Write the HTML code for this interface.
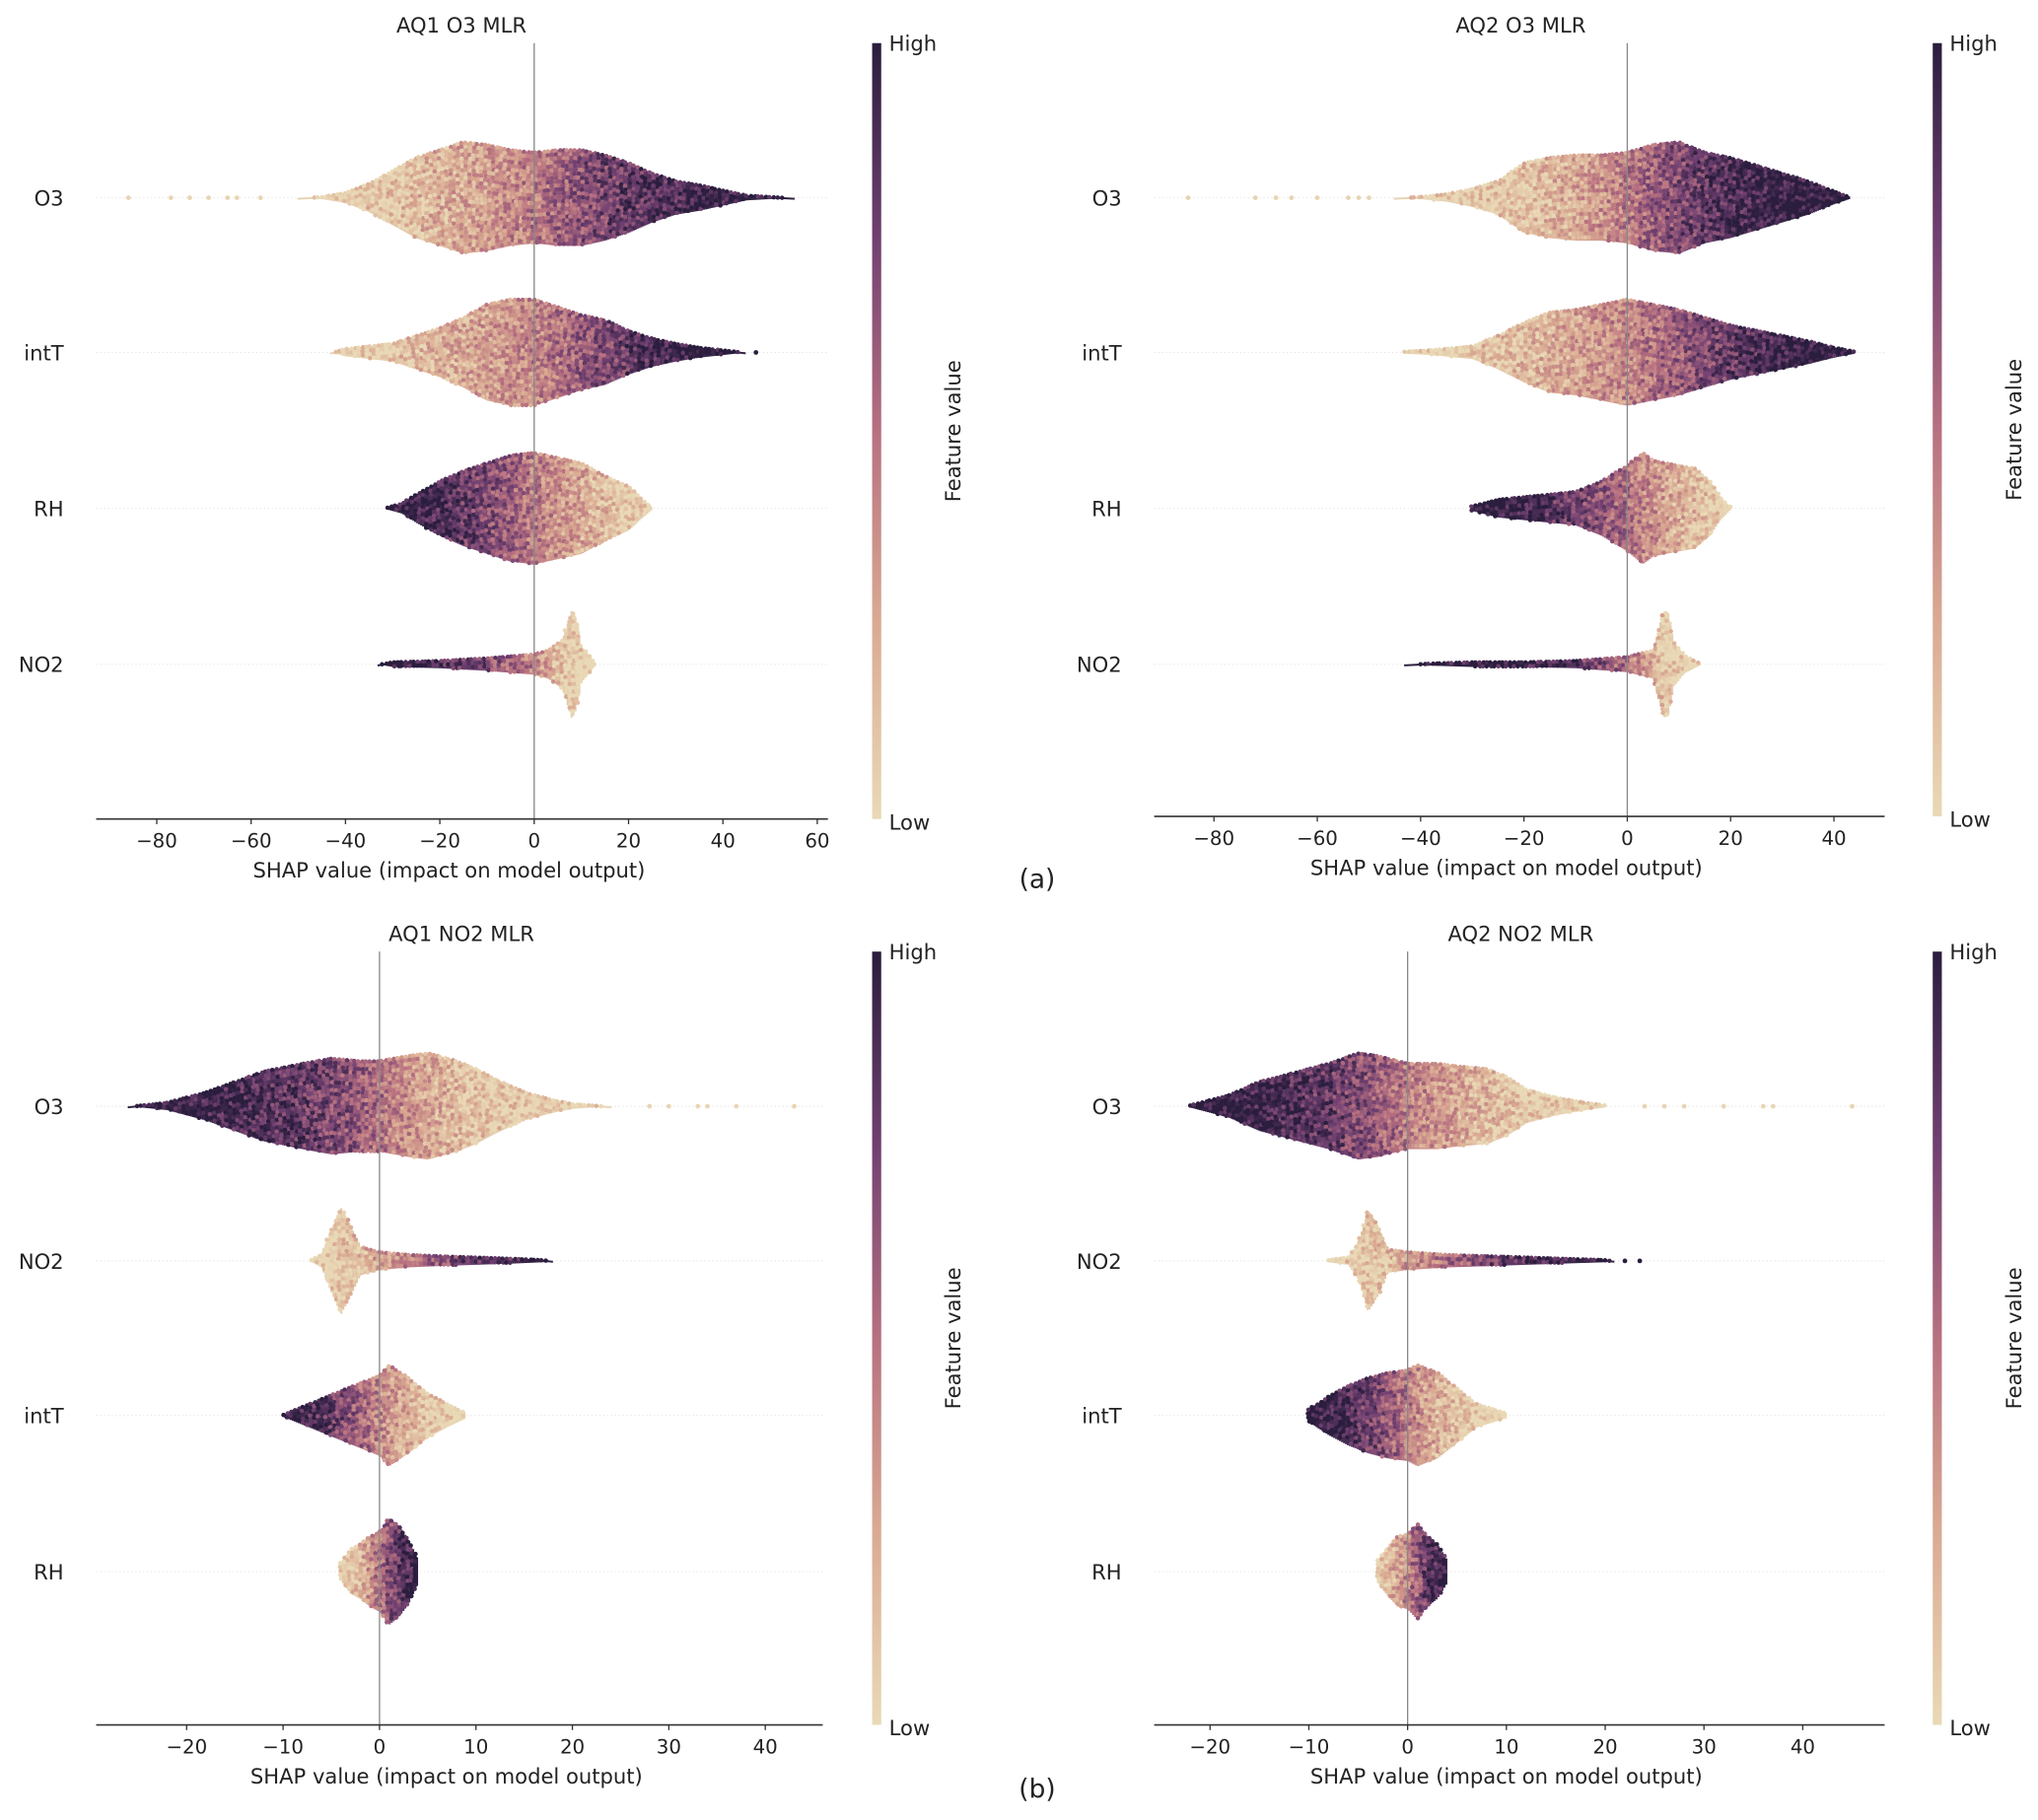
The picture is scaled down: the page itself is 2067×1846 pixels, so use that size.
<!DOCTYPE html>
<html><head><meta charset="utf-8"><style>html,body{margin:0;padding:0;background:#fff}svg{display:block}text{font-family:"DejaVu Sans","Liberation Sans",sans-serif;fill:#222}</style></head>
<body>
<svg id="fig" width="2067" height="1846" viewBox="0 0 1568 1400" xmlns="http://www.w3.org/2000/svg"></svg>
<script>
// ---- data (SHAP value bins: x, swarm half-height density, mean feature colour) ----
const panelTitles = ["AQ1 O3 MLR","AQ2 O3 MLR","AQ1 NO2 MLR","AQ2 NO2 MLR"];
const panelFeatures = [["O3","intT","RH","NO2"],["O3","intT","RH","NO2"],["O3","NO2","intT","RH"],["O3","NO2","intT","RH"]];
const panelTicks = [[-80,-60,-40,-20,0,20,40,60],[-80,-60,-40,-20,0,20,40],[-20,-10,0,10,20,30,40],[-20,-10,0,10,20,30,40]];
// panel 1
const p1O3X=[-50,-45,-40,-35,-30,-25,-20,-15,-10,-5,0,5,10,15,20,25,30,35,40,45,50,55];
const p1O3H=[1,2,5,12,22,32,38,44,42,38,36,38,38,34,28,20,14,11,7,3,2,1];
const p1O3CX=[-50,-40,-30,-20,-10,0,10,20,30,40,50];
const p1O3C=[0.02,0.05,0.1,0.2,0.3,0.45,0.65,0.8,0.9,0.95,1];
const p1O3Out=[-86,-77,-73,-69,-65,-63,-58];
const p1IntX=[-43,-40,-35,-30,-25,-20,-15,-10,-5,0,5,10,15,20,25,30,35,40,45];
const p1IntH=[1,4,6,8,14,20,28,38,42,42,36,30,26,18,12,8,5,3,1];
const p1IntCX=[-40,-30,-20,-10,0,10,20,30,40];
const p1IntC=[0.03,0.08,0.2,0.28,0.4,0.6,0.8,0.95,1];
const p1IntOut=[47];
const p1RHX=[-31,-28,-25,-20,-15,-10,-5,0,5,10,15,20,23,25];
const p1RHH=[2,5,12,22,30,36,42,44,40,36,26,18,8,2];
const p1RHCX=[-30,-20,-10,0,10,20];
const p1RHC=[1,0.9,0.7,0.45,0.25,0.05];
const p1NO2X=[-33,-30,-20,-10,0,3,6,8,9,10,12,13];
const p1NO2H=[1,3,4,6,9,12,20,43,35,15,6,2];
const p1NO2CX=[-30,-20,-10,0,5,8,13];
const p1NO2C=[1,0.9,0.7,0.4,0.15,0.05,0.02];
// panel 2
const p2O3X=[-45,-40,-35,-30,-25,-20,-15,-10,-5,0,5,10,15,20,25,30,35,40,43];
const p2O3H=[1,2,4,8,14,28,32,34,34,36,42,44,36,32,26,20,14,6,2];
const p2O3CX=[-40,-20,-10,0,10,20,30,40];
const p2O3C=[0.03,0.1,0.25,0.45,0.7,0.9,0.97,1];
const p2O3Out=[-85,-72,-68,-65,-60,-54,-52,-50];
const p2IntX=[-43,-38,-30,-25,-20,-15,-10,-5,0,5,10,15,20,25,30,35,40,44];
const p2IntH=[2,3,6,14,24,32,34,38,42,38,34,28,22,18,14,10,5,2];
const p2IntCX=[-40,-20,0,10,20,30,40];
const p2IntC=[0.02,0.15,0.4,0.6,0.8,0.95,1];
const p2RHX=[-30,-25,-20,-15,-10,-5,0,3,5,10,13,16,18,20];
const p2RHH=[3,8,10,12,14,22,34,44,38,34,32,22,10,2];
const p2RHCX=[-30,-20,-10,0,10,18];
const p2RHC=[1,0.95,0.75,0.5,0.2,0.05];
const p2NO2X=[-43,-38,-30,-20,-10,0,5,7,8,9,11,14];
const p2NO2H=[1,2,3,3,4,7,12,42,40,18,8,2];
const p2NO2CX=[-40,-20,-10,0,5,8,14];
const p2NO2C=[1,0.95,0.8,0.5,0.2,0.05,0.02];
// panel 3
const p3O3X=[-26,-22,-20,-18,-15,-12,-8,-5,-2,0,3,5,8,10,12,15,18,20,24];
const p3O3H=[1,4,8,12,20,28,34,38,36,36,40,42,36,30,22,12,6,3,1];
const p3O3CX=[-25,-15,-8,-3,0,5,10,20];
const p3O3C=[1,0.92,0.8,0.65,0.5,0.25,0.1,0.02];
const p3O3Out=[28,30,33,34,37,43];
const p3NO2X=[-7,-6,-5,-4,-3,-2,0,3,6,10,14,17,18];
const p3NO2H=[2,6,25,42,28,12,8,6,5,4,3,2,1];
const p3NO2CX=[-5,-3,0,5,10,15,18];
const p3NO2C=[0.05,0.1,0.3,0.55,0.8,0.95,1];
const p3IntX=[-10,-8,-6,-4,-2,0,1,3,5,7,9];
const p3IntH=[2,8,14,20,26,32,40,30,18,10,3];
const p3IntCX=[-10,-6,-3,0,3,6,9];
const p3IntC=[1,0.85,0.65,0.4,0.2,0.05,0.02];
const p3RHX=[-4,-3,-2,-1,0,1,2,3,4];
const p3RHH=[8,18,22,28,32,42,36,26,10];
const p3RHCX=[-4,-2,0,2,4];
const p3RHC=[0.03,0.15,0.5,0.8,1];
// panel 4
const p4O3X=[-22,-18,-15,-12,-8,-5,-3,0,3,5,8,10,12,15,18,20];
const p4O3H=[2,10,20,26,34,42,40,34,34,32,30,24,14,8,4,2];
const p4O3CX=[-22,-15,-8,-4,0,5,10,18];
const p4O3C=[1,0.95,0.8,0.65,0.45,0.25,0.1,0.02];
const p4O3Out=[24,26,28,32,36,37,45];
const p4NO2X=[-8,-6,-5,-4,-3,-2,0,4,8,12,16,20,21];
const p4NO2H=[2,4,15,40,28,10,8,6,5,4,3,2,1];
const p4NO2CX=[-5,-3,0,5,10,15,20];
const p4NO2C=[0.05,0.1,0.3,0.55,0.8,0.95,1];
const p4NO2Out=[22,23.5];
const p4IntX=[-10,-8,-6,-4,-2,0,1,3,5,7,10];
const p4IntH=[6,16,24,30,34,36,40,34,22,10,3];
const p4IntCX=[-10,-6,-3,0,3,6,10];
const p4IntC=[1,0.9,0.7,0.45,0.2,0.05,0.02];
const p4RHX=[-3,-2,-1,0,1,2,3,4];
const p4RHH=[10,20,28,30,38,28,22,10];
const p4RHCX=[-3,0,2,4];
const p4RHC=[0.03,0.4,0.8,1];

const panelSeries=[
 [[p1O3X,p1O3H,p1O3CX,p1O3C,p1O3Out],[p1IntX,p1IntH,p1IntCX,p1IntC,p1IntOut],[p1RHX,p1RHH,p1RHCX,p1RHC,[]],[p1NO2X,p1NO2H,p1NO2CX,p1NO2C,[]]],
 [[p2O3X,p2O3H,p2O3CX,p2O3C,p2O3Out],[p2IntX,p2IntH,p2IntCX,p2IntC,[]],[p2RHX,p2RHH,p2RHCX,p2RHC,[]],[p2NO2X,p2NO2H,p2NO2CX,p2NO2C,[]]],
 [[p3O3X,p3O3H,p3O3CX,p3O3C,p3O3Out],[p3NO2X,p3NO2H,p3NO2CX,p3NO2C,[]],[p3IntX,p3IntH,p3IntCX,p3IntC,[]],[p3RHX,p3RHH,p3RHCX,p3RHC,[]]],
 [[p4O3X,p4O3H,p4O3CX,p4O3C,p4O3Out],[p4NO2X,p4NO2H,p4NO2CX,p4NO2C,p4NO2Out],[p4IntX,p4IntH,p4IntCX,p4IntC,[]],[p4RHX,p4RHH,p4RHCX,p4RHC,[]]]
];

// ---- layout ----
const layout=[
 {x0:74,x1:637,zero:411,scale:3.63,top:33,bottom:630,rows:[152,271,391,511],cb:671,title:355},
 {x0:888,x1:1450,zero:1252,scale:3.975,top:33,bottom:628,rows:[152,271,391,511],cb:1487,title:1170},
 {x0:74,x1:633,zero:292,scale:7.42,top:732,bottom:1327,rows:[851,970,1089,1209],cb:671,title:355},
 {x0:888,x1:1450,zero:1083,scale:7.6,top:732,bottom:1327,rows:[851,970,1089,1209],cb:1487,title:1170}
];
const NS="http://www.w3.org/2000/svg";
const svg=document.getElementById('fig');
function mk(tag,attrs,parent){const e=document.createElementNS(NS,tag);for(const k in attrs)e.setAttribute(k,attrs[k]);(parent||svg).appendChild(e);return e;}
const stops=[[0,[233,217,182]],[0.25,[218,170,146]],[0.5,[183,112,128]],[0.75,[112,64,113]],[1,[42,29,61]]];
function cmap(t){t=Math.max(0,Math.min(1,t));for(let i=1;i<stops.length;i++){if(t<=stops[i][0]){const a=stops[i-1],b=stops[i];const f=(t-a[0])/(b[0]-a[0]);const c=a[1].map((v,k)=>Math.round(v+(b[1][k]-v)*f));return `rgb(${c})`;}}return 'rgb(42,29,61)';}
function lerp(xs,ys,x){if(x<=xs[0])return ys[0];if(x>=xs[xs.length-1])return ys[ys.length-1];for(let i=1;i<xs.length;i++){if(x<=xs[i]){const f=(x-xs[i-1])/(xs[i]-xs[i-1]);return ys[i-1]+(ys[i]-ys[i-1])*f;}}}
// deterministic texture hash (visual speckle only)
function hsh(a,b){let h=Math.sin(a*127.1+b*311.7)*43758.5453;return h-Math.floor(h);}

const defs=mk('defs',{});
const grad=mk('linearGradient',{id:'cbg',x1:0,y1:1,x2:0,y2:0},defs);
stops.forEach(s=>mk('stop',{offset:s[0],'stop-color':`rgb(${s[1]})`},grad));

layout.forEach((L,p)=>{
  const g=mk('g',{});
  
  
  const sx=v=>L.zero+v*L.scale;
  const t=mk('text',{x:L.title,y:L.top-8,'text-anchor':'middle','font-size':16},g);
  t.textContent=panelTitles[p];
  
  
  panelFeatures[p].forEach((f,i)=>{
    const y=L.rows[i];
    mk('line',{x1:L.x0,x2:L.x1,y1:y,y2:y,stroke:'#ddd','stroke-width':0.6,'stroke-dasharray':'1,2'},g);
    const lt=mk('text',{x:L.x0-25,y:y+6,'text-anchor':'end','font-size':16},g);
    lt.textContent=f;
    
    
  });
  panelSeries[p].forEach((s,i)=>{
    const [xs,hs,cxs,cs,outs]=s;const y=L.rows[i];
    const sg=mk('g',{},g);
    
    
    const a=sx(xs[0]),b=sx(xs[xs.length-1]);
    for(let px=a;px<=b;px+=1.5){
      const v=(px-L.zero)/L.scale;
      const h=lerp(xs,hs,v);
      const c=lerp(cxs,cs,v);
      mk('rect',{x:px-0.75,y:y-h+1,width:1.6,height:Math.max(1.5,2*h-2),fill:cmap(c)},sg);
    }
    // speckle dots
    for(let px=a;px<=b;px+=3){
      const v=(px-L.zero)/L.scale;
      const h=lerp(xs,hs,v);
      for(let dy=-h+1.5;dy<=h-1.5;dy+=3){
        const r1=hsh(px,dy+i*7+p*13),r2=hsh(dy,px+p);
        const c=lerp(cxs,cs,v)+(r1-0.5)*0.45;
        mk('circle',{cx:px+(r2-0.5)*1.5,cy:y+dy,r:1.7,fill:cmap(c)},sg);
      }
    }
    outs.forEach(o=>{
      const c=lerp(cxs,cs,o);
      mk('circle',{cx:sx(o),cy:y,r:1.8,fill:cmap(c)},sg);
    });
  });
  mk('line',{x1:L.zero,x2:L.zero,y1:L.top,y2:L.bottom,stroke:'#888','stroke-width':1},g);
  const ax=mk('line',{x1:L.x0,x2:L.x1,y1:L.bottom,y2:L.bottom,stroke:'#333','stroke-width':1.2},g);
  
  
  panelTicks[p].forEach(tv=>{
    const x=sx(tv);
    mk('line',{x1:x,x2:x,y1:L.bottom,y2:L.bottom+4,stroke:'#333','stroke-width':1},g);
    const tt=mk('text',{x:x,y:L.bottom+22,'text-anchor':'middle','font-size':15},g);
    tt.textContent=(tv<0?'\u2212'+(-tv):String(tv));
    
    
  });
  const xl=mk('text',{x:(L.x0+L.x1)/2-10,y:L.bottom+45,'text-anchor':'middle','font-size':16},g);
  xl.textContent='SHAP value (impact on model output)';
  
  
  const cb=mk('rect',{x:L.cb,y:L.top,width:7,height:L.bottom-L.top,fill:'url(#cbg)'},g);
  
  
  const hi=mk('text',{x:L.cb+13,y:L.top+6,'font-size':16},g);hi.textContent='High';
  
  
  const lo=mk('text',{x:L.cb+13,y:L.bottom+8,'font-size':16},g);lo.textContent='Low';
  
  
  const cy=(L.top+L.bottom)/2;
  const fv=mk('text',{x:L.cb+68,y:cy,'text-anchor':'middle','font-size':16,transform:`rotate(-90 ${L.cb+68} ${cy})`},g);
  fv.textContent='Feature value';
  
  
});
const la=mk('text',{x:798,y:683,'text-anchor':'middle','font-size':20});la.textContent='(a)';


const lb=mk('text',{x:798,y:1383,'text-anchor':'middle','font-size':20});lb.textContent='(b)';


</script>
</body></html>
